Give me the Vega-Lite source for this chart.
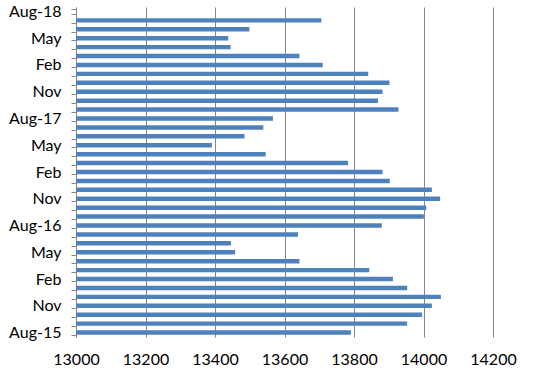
{
  "$schema": "https://vega.github.io/schema/vega-lite/v6.json",
  "autosize": {"type": "none"},
  "width": 417,
  "height": 330,
  "padding": {"left": 76, "top": 7, "right": 67, "bottom": 40},
  "background": "white",
  "data": {"values": [
    {"month": "Aug-15", "value": 13791},
    {"month": "Sep-15", "value": 13953},
    {"month": "Oct-15", "value": 13996},
    {"month": "Nov-15", "value": 14024},
    {"month": "Dec-15", "value": 14050},
    {"month": "Jan-16", "value": 13953},
    {"month": "Feb-16", "value": 13912},
    {"month": "Mar-16", "value": 13844},
    {"month": "Apr-16", "value": 13643},
    {"month": "May-16", "value": 13458},
    {"month": "Jun-16", "value": 13446},
    {"month": "Jul-16", "value": 13639},
    {"month": "Aug-16", "value": 13880},
    {"month": "Sep-16", "value": 14001},
    {"month": "Oct-16", "value": 14008},
    {"month": "Nov-16", "value": 14048},
    {"month": "Dec-16", "value": 14024},
    {"month": "Jan-17", "value": 13903},
    {"month": "Feb-17", "value": 13882},
    {"month": "Mar-17", "value": 13783},
    {"month": "Apr-17", "value": 13546},
    {"month": "May-17", "value": 13391},
    {"month": "Jun-17", "value": 13485},
    {"month": "Jul-17", "value": 13539},
    {"month": "Aug-17", "value": 13567},
    {"month": "Sep-17", "value": 13928},
    {"month": "Oct-17", "value": 13869},
    {"month": "Nov-17", "value": 13882},
    {"month": "Dec-17", "value": 13902},
    {"month": "Jan-18", "value": 13841},
    {"month": "Feb-18", "value": 13710},
    {"month": "Mar-18", "value": 13643},
    {"month": "Apr-18", "value": 13445},
    {"month": "May-18", "value": 13438},
    {"month": "Jun-18", "value": 13499},
    {"month": "Jul-18", "value": 13706}
  ]},
  "mark": {"type": "bar", "color": "#4F81BD", "clip": true},
  "encoding": {
    "y": {
      "field": "month",
      "type": "nominal",
      "sort": null,
      "scale": {
        "domain": ["Aug-18","Jul-18","Jun-18","May-18","Apr-18","Mar-18","Feb-18","Jan-18","Dec-17","Nov-17","Oct-17","Sep-17","Aug-17","Jul-17","Jun-17","May-17","Apr-17","Mar-17","Feb-17","Jan-17","Dec-16","Nov-16","Oct-16","Sep-16","Aug-16","Jul-16","Jun-16","May-16","Apr-16","Mar-16","Feb-16","Jan-16","Dec-15","Nov-15","Oct-15","Sep-15","Aug-15"],
        "paddingInner": 0.5,
        "paddingOuter": 0.25
      },
      "axis": {
        "title": null,
        "labelExpr": "test(/^Aug/, datum.value) ? datum.value : (test(/^(Nov|Feb|May)/, datum.value) ? slice(datum.value, 0, 3) : '')",
        "labelOverlap": false,
        "labelFont": "Lato",
        "labelFontSize": 16,
        "labelColor": "#000000",
        "labelPadding": 10,
        "tickBand": "extent",
        "tickSize": 5,
        "tickColor": "#868686",
        "domainColor": "#868686",
        "grid": false
      }
    },
    "x": {
      "field": "value",
      "type": "quantitative",
      "scale": {"domain": [13000, 14200], "zero": false, "nice": false},
      "axis": {
        "title": null,
        "values": [13000, 13200, 13400, 13600, 13800, 14000, 14200],
        "format": "d",
        "grid": true,
        "gridColor": "#868686",
        "gridOpacity": 1,
        "domain": false,
        "ticks": false,
        "labelOverlap": false,
        "labelFlush": false,
        "labelFont": "Lato",
        "labelFontSize": 16,
        "labelColor": "#000000",
        "labelPadding": 14
      }
    },
    "x2": {"datum": 13000}
  },
  "config": {"view": {"stroke": null}}
}
